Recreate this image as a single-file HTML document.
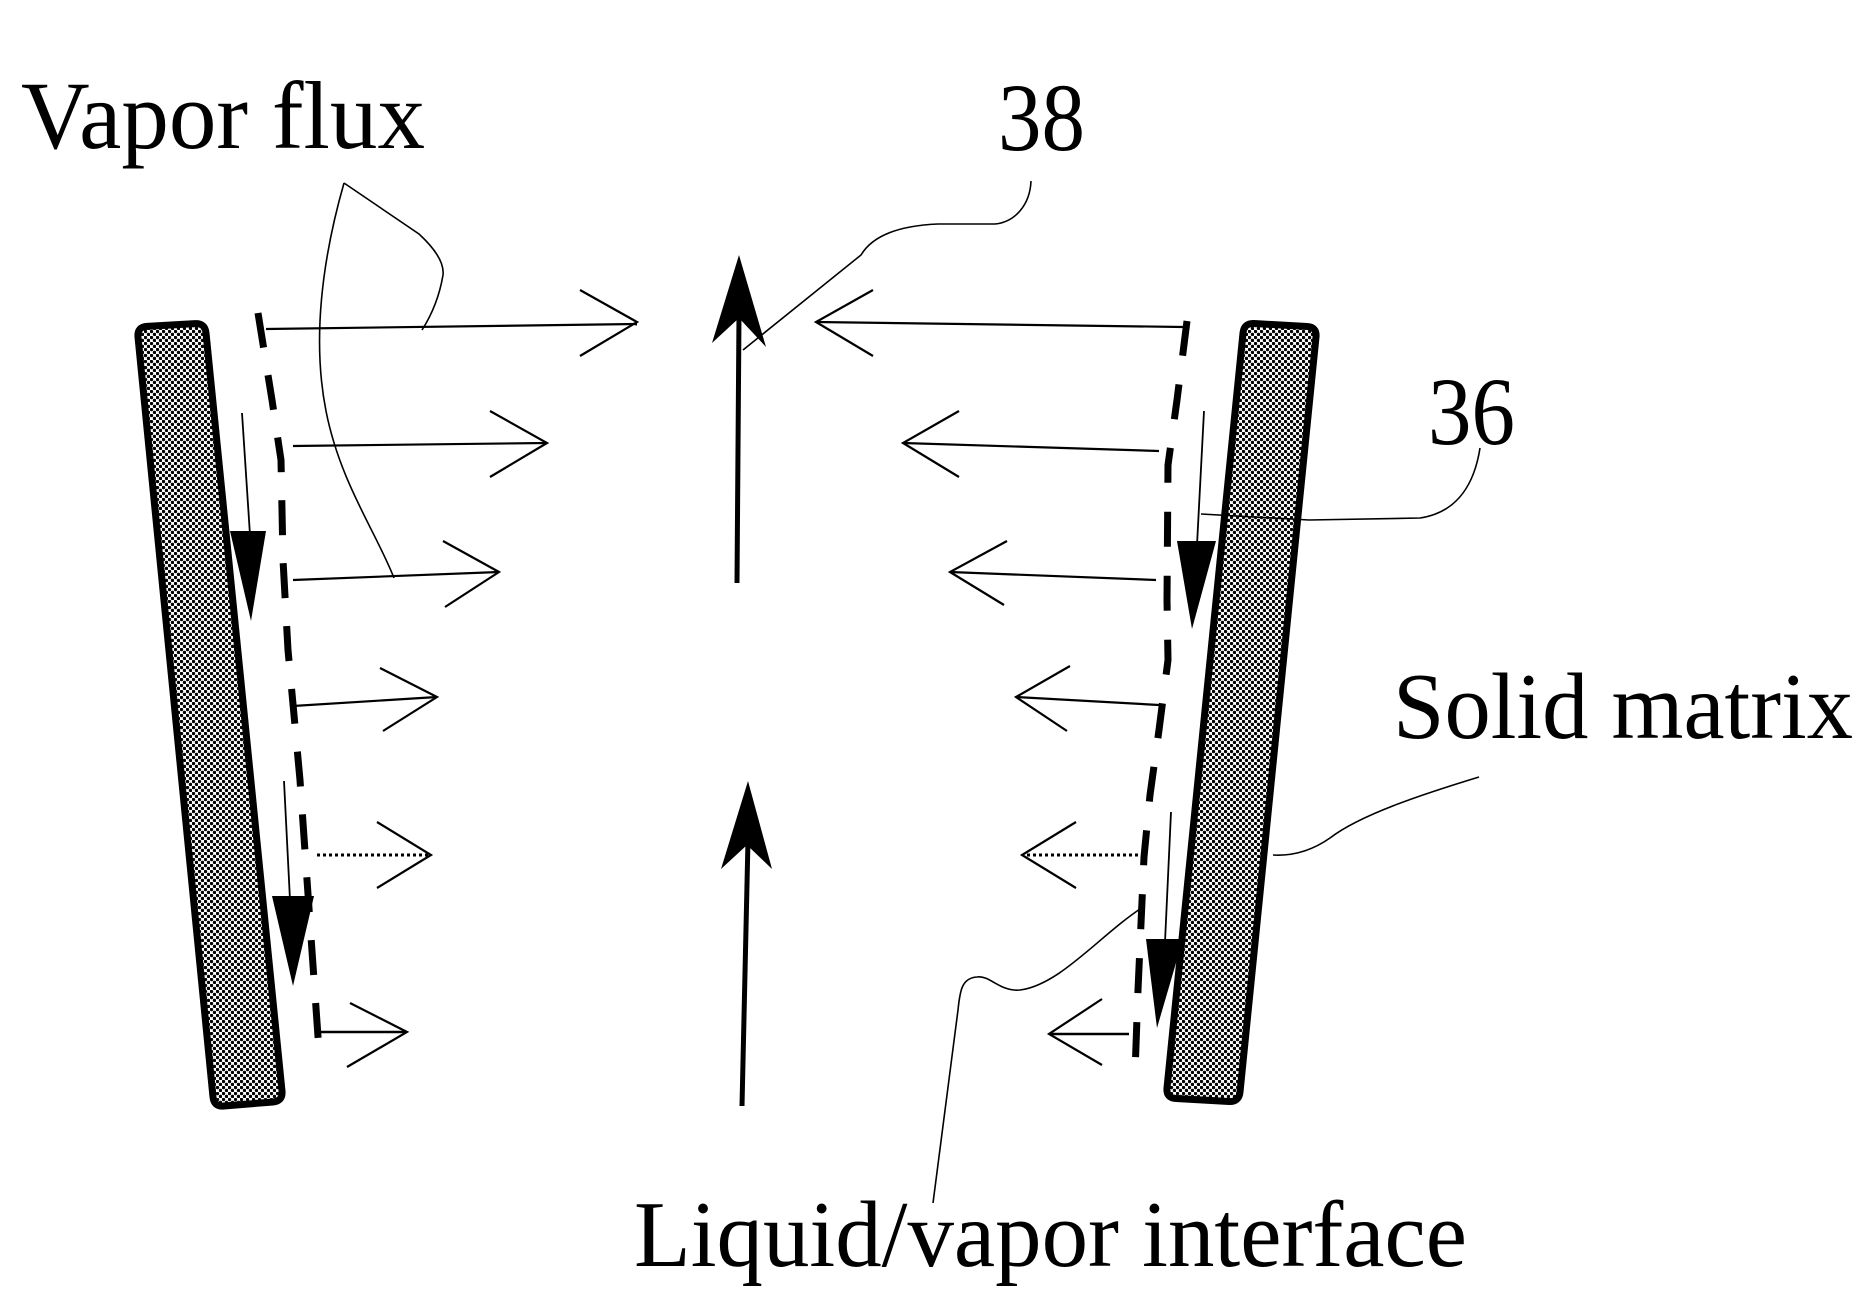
<!DOCTYPE html>
<html><head><meta charset="utf-8"><style>
html,body{margin:0;padding:0;background:#fff;}
svg{display:block;}
text{font-family:"Liberation Serif","Times New Roman",serif;fill:#000;}
</style></head><body>
<svg width="1876" height="1290" viewBox="0 0 1876 1290" xmlns="http://www.w3.org/2000/svg">
<defs>
<pattern id="dots" width="6" height="6" patternUnits="userSpaceOnUse">
<rect width="6" height="6" fill="#fff"/>
<circle cx="1.5" cy="1.5" r="1.7" fill="#000"/>
<circle cx="4.5" cy="4.5" r="1.7" fill="#000"/>
</pattern>
</defs>
<rect width="1876" height="1290" fill="#fff"/>

<!-- bars -->
<path d="M147,326.4 L195,323.6 Q205,323 206,333 L282,1091 Q283,1101 273,1102 L224,1106 Q214,1107 213,1097 L138,337 Q137,327 147,326.4 Z" fill="url(#dots)" stroke="#000" stroke-width="7" stroke-linejoin="round"/>
<path d="M1254,323.5 L1307,326.5 Q1317,327 1316,337 L1240,1092 Q1239,1102 1229,1101.5 L1176,1098.5 Q1166,1098 1167,1088 L1243,333 Q1244,323 1254,323.5 Z" fill="url(#dots)" stroke="#000" stroke-width="7" stroke-linejoin="round"/>

<!-- dashed interfaces -->
<path d="M258,313 L272,400 L281,460 L283,560 L288,650 L300,780 L320,1065" fill="none" stroke="#000" stroke-width="7" stroke-dasharray="35 28"/>
<path d="M1187,321 L1177,400 L1168,465 L1167,600 L1168,660 L1159,730 L1150,795 L1144,857 L1138,990 L1135,1073" fill="none" stroke="#000" stroke-width="7" stroke-dasharray="35 29"/>

<!-- left flux arrows -->
<g fill="none" stroke="#000" stroke-width="2.2">
<line x1="266" y1="329" x2="637" y2="324"/>
<polyline points="580,290 637,322 580,356"/>
<line x1="293" y1="446" x2="547" y2="443"/>
<polyline points="490,411 547,443 490,477"/>
<line x1="293" y1="580" x2="499" y2="572"/>
<polyline points="443,541 499,572 445,607"/>
<line x1="293" y1="706" x2="437" y2="697"/>
<polyline points="380,668 437,697 383,731"/>
<line x1="317" y1="855" x2="431" y2="855" stroke-width="3" stroke-dasharray="3 3"/>
<polyline points="377,822 431,855 377,888"/>
<line x1="320" y1="1032" x2="407" y2="1032" stroke-width="2.5"/>
<polyline points="350,1003 407,1032 347,1067"/>
</g>

<!-- right flux arrows -->
<g fill="none" stroke="#000" stroke-width="2.2">
<line x1="1183" y1="327" x2="816" y2="322"/>
<polyline points="873,290 816,322 873,356"/>
<line x1="1159" y1="451" x2="903" y2="443"/>
<polyline points="959,411 903,443 959,477"/>
<line x1="1156" y1="580" x2="950" y2="572"/>
<polyline points="1007,541 950,572 1004,605"/>
<line x1="1159" y1="705" x2="1016" y2="697"/>
<polyline points="1070,666 1016,697 1067,731"/>
<line x1="1138" y1="855" x2="1022" y2="855" stroke-width="3" stroke-dasharray="3 3"/>
<polyline points="1076,822 1022,855 1076,888"/>
<line x1="1129" y1="1034" x2="1049" y2="1034" stroke-width="2.5"/>
<polyline points="1102,999 1049,1034 1102,1065"/>
</g>

<!-- central vertical arrows -->
<line x1="737" y1="583" x2="739" y2="315" stroke="#000" stroke-width="5"/>
<polygon points="739,255 766,347 739,318 712,343" fill="#000"/>
<line x1="742" y1="1106" x2="748" y2="840" stroke="#000" stroke-width="5"/>
<polygon points="748,781 772,869 747,845 721,869" fill="#000"/>

<!-- small downward arrows -->
<g stroke="#000" stroke-width="1.8">
<line x1="242" y1="413" x2="250" y2="535"/>
<line x1="284" y1="781" x2="290" y2="900"/>
<line x1="1204" y1="411" x2="1197" y2="545"/>
<line x1="1171" y1="812" x2="1165" y2="942"/>
</g>
<g fill="#000">
<polygon points="230,531 266,531 251,621"/>
<polygon points="272,896 314,896 293,986"/>
<polygon points="1177,541 1216,541 1192,629"/>
<polygon points="1146,939 1183,939 1157,1028"/>
</g>

<!-- leader lines -->
<g fill="none" stroke="#000" stroke-width="1.6">
<path d="M344,183 L419,234 Q445,258 443,275 Q438,305 422,330"/>
<path d="M344,183 C322,260 312,340 326,411 S375,530 394,578"/>
<path d="M1031,181 C1030,205 1015,222 995,224 L938,224 C890,226 870,240 861,255 L743,350"/>
<path d="M1480,448 C1475,480 1460,512 1420,518 L1309,520 L1201,514"/>
<path d="M1479,777 C1420,795 1360,815 1330,838 C1310,852 1290,856 1273,855"/>
<path d="M1143,907 C1100,935 1060,985 1020,990 C1000,992 990,975 977,977 C962,978 960,990 958,1010 L933,1203"/>
</g>

<!-- labels -->
<text x="21" y="148" font-size="96" textLength="404" lengthAdjust="spacingAndGlyphs">Vapor flux</text>
<text x="998" y="150" font-size="96" textLength="87" lengthAdjust="spacingAndGlyphs">38</text>
<text x="1428" y="444" font-size="96" textLength="87" lengthAdjust="spacingAndGlyphs">36</text>
<text x="1393" y="738" font-size="94" textLength="460" lengthAdjust="spacingAndGlyphs">Solid matrix</text>
<text x="634" y="1266" font-size="94" textLength="833" lengthAdjust="spacingAndGlyphs">Liquid/vapor interface</text>
</svg>
</body></html>
